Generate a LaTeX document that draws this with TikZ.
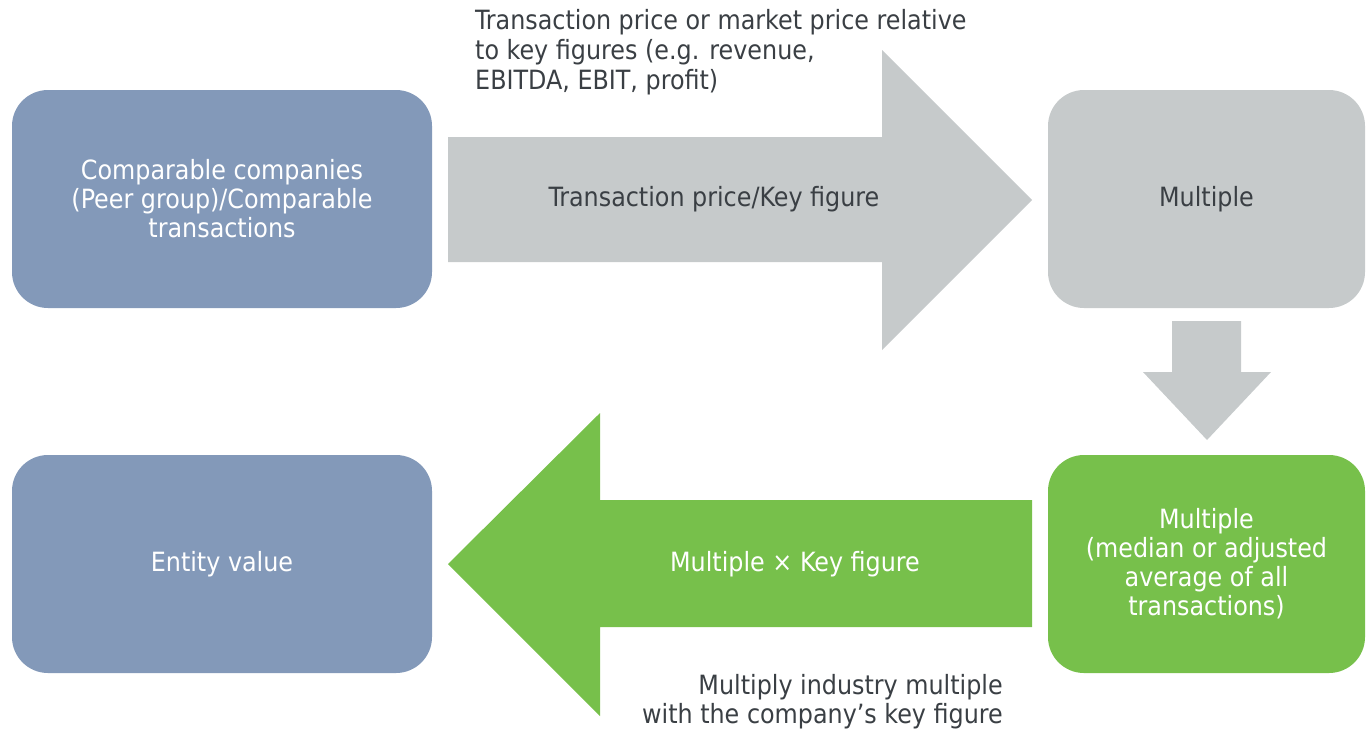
\documentclass[tikz,border=0pt]{standalone}
\usepackage{fontspec}
\setmainfont{DejaVu Sans Condensed}
\definecolor{boxblue}{HTML}{8399B9}
\definecolor{boxgray}{HTML}{C6CACB}
\definecolor{boxgreen}{HTML}{77C04B}
\definecolor{txt}{HTML}{3A3F44}
\begin{document}
\begin{tikzpicture}[x=1pt,y=-1pt,
  box/.style={rounded corners=36pt,minimum width=420pt,minimum height=218pt,align=center,font=\fontsize{26.5}{29}\selectfont,inner sep=0pt},
  lbl/.style={font=\fontsize{26.5}{30}\selectfont,text=txt,inner sep=0pt}]
\useasboundingbox (0,0) rectangle (1370,732);
\node[box,fill=boxblue,text=white] (peer) at (222,199) {Comparable companies\\(Peer group)/Comparable\\transactions};
\node[box,fill=boxgray,text=txt,minimum width=317pt] (mult) at (1206.5,199) {Multiple};
\node[box,fill=boxblue,text=white] (ev) at (222,564) {Entity value};
\node[box,fill=boxgreen,text=white,minimum width=317pt] (avg) at (1206.5,564) {Multiple\\(median or adjusted\\average of all\\transactions)};
% gray right arrow
\fill[boxgray] (448,137) -- (882,137) -- (882,50) -- (1032,200) -- (882,350) -- (882,262) -- (448,262) -- cycle;
\node[lbl] (tp) at (714,199) {Transaction price/Key figure};
% down arrow
\fill[boxgray] (1172,321) -- (1241,321) -- (1241,372) -- (1271,372) -- (1207,440) -- (1143,372) -- (1172,372) -- cycle;
% green left arrow
\fill[boxgreen] (1032,500) -- (600,500) -- (600,413) -- (448,564) -- (600,716) -- (600,627) -- (1032,627) -- cycle;
\node[lbl,text=white] (mk) at (795,564) {Multiple × Key figure};
\node[lbl,align=left,anchor=north west] (top) at (475,9) {Transaction price or market price relative\\to key figures (e.g. revenue,\\EBITDA, EBIT, profit)};
\node[lbl,align=right,anchor=north east,font=\fontsize{26.5}{29}\selectfont] (bot) at (1003,674) {Multiply industry multiple\\with the company’s key figure};
\end{tikzpicture}
\end{document}
